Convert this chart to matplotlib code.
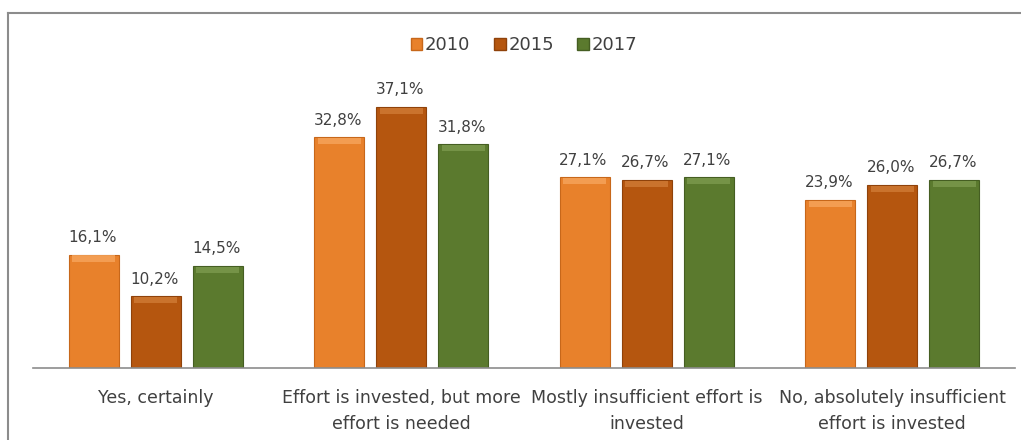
import matplotlib
matplotlib.use("Agg")
import matplotlib.pyplot as plt
import numpy as np
from matplotlib.patches import Rectangle
from matplotlib.lines import Line2D

categories = [
    "Yes, certainly",
    "Effort is invested, but more\neffort is needed",
    "Mostly insufficient effort is\ninvested",
    "No, absolutely insufficient\neffort is invested",
]
years = ["2010", "2015", "2017"]
v2010 = [16.1, 32.8, 27.1, 23.9]
v2015 = [10.2, 37.1, 26.7, 26.0]
v2017 = [14.5, 31.8, 27.1, 26.7]
series = [v2010, v2015, v2017]

colors = ["#E8812B", "#B5560F", "#5B7A2E"]
edges = ["#C7671A", "#8F420A", "#455E22"]
highlights = ["#F6A55C", "#D07B35", "#7C9A4E"]

W, H = 1021, 440
fig = plt.figure(figsize=(W / 100, H / 100), dpi=100)

# outer frame of the chart area (left and top edges visible)
fig.add_artist(Line2D([8 / W, 8 / W], [0, 1 - 13 / H], transform=fig.transFigure,
                      color="#8C8C8C", lw=1.5))
fig.add_artist(Line2D([8 / W, 1], [1 - 13 / H, 1 - 13 / H], transform=fig.transFigure,
                      color="#8C8C8C", lw=1.5))

ax_left, ax_right = 33, 1015
base_y = 368
px_per_unit = (368 - 107) / 37.1
ymax = 40
ax_h = ymax * px_per_unit
ax = fig.add_axes([ax_left / W, (H - base_y) / H, (ax_right - ax_left) / W, ax_h / H])
ax.set_xlim(-0.5, len(categories) - 0.5)
ax.set_ylim(0, ymax)

bar_w = 0.203
step = 0.252
x = np.arange(len(categories))
for i, (vals, c, ec, hc) in enumerate(zip(series, colors, edges, highlights)):
    xs = x + (i - 1) * step
    ax.bar(xs, vals, width=bar_w, color=c, edgecolor=ec, linewidth=0.8, zorder=2,
           label=years[i])
    # bevel highlight along the top of each bar
    ax.bar(xs, [0.9] * len(vals), bottom=[v - 1.0 for v in vals], width=bar_w * 0.86,
           color=hc, linewidth=0, alpha=0.8, zorder=3)
    for xv, v in zip(xs, vals):
        ax.annotate(f"{v:.1f}%".replace(".", ","), (xv, v), xytext=(-1, 7),
                    textcoords="offset points", ha="center", va="bottom",
                    fontsize=11, color="#404040", family="DejaVu Sans")

for s in ["top", "right", "left"]:
    ax.spines[s].set_visible(False)
ax.spines["bottom"].set_color("#8C8C8C")
ax.spines["bottom"].set_linewidth(1.2)
ax.set_yticks([])
ax.set_xticks(x)
ax.set_xticklabels(categories, fontsize=12.5, color="#404040",
                   family=["Liberation Sans Narrow", "DejaVu Sans"], linespacing=1.55)
ax.tick_params(axis="x", length=0, pad=15)

handles = [Rectangle((0, 0), 1, 1, facecolor=c, edgecolor=ec) for c, ec in zip(colors, edges)]
leg = fig.legend(handles, years, loc="center", bbox_to_anchor=(524 / W, 1 - 45 / H), ncol=3,
                 frameon=False, handlelength=0.65, handleheight=0.65,
                 handletextpad=0.15, columnspacing=1.3,
                 prop={"family": "DejaVu Sans", "size": 13})
for t in leg.get_texts():
    t.set_color("#404040")

fig.savefig("out.png", dpi=100, facecolor="white")
